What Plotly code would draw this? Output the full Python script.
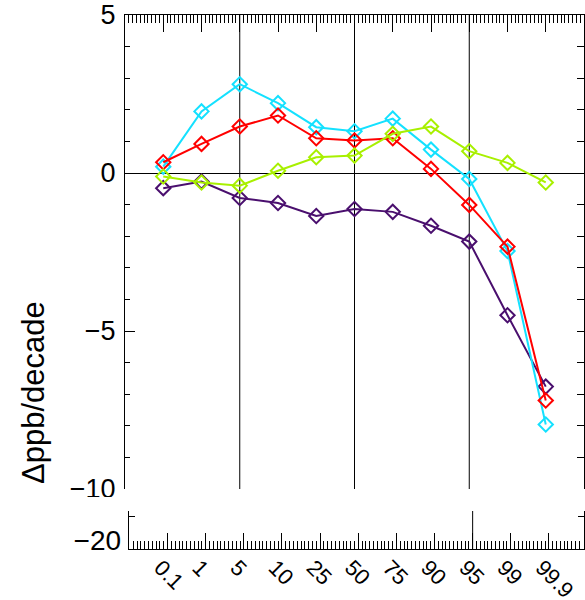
import plotly.graph_objects as go

categories = ["0.1", "1", "5", "10", "25", "50", "75", "90", "95", "99", "99.9"]
purple_vals = [-0.48, -0.27, -0.79, -0.95, -1.36, -1.14, -1.23, -1.67, -2.17, -4.50, -6.76]
cyan_vals = [0.20, 1.95, 2.81, 2.21, 1.45, 1.32, 1.72, 0.74, -0.19, -2.47, -7.96]
red_vals = [0.34, 0.92, 1.47, 1.82, 1.10, 1.03, 1.10, 0.13, -1.01, -2.33, -7.20]
green_vals = [-0.11, -0.30, -0.40, 0.07, 0.50, 0.55, 1.24, 1.47, 0.69, 0.32, -0.30]
vline_categories = ["5", "50", "95"]
lower_vline_categories = ["95"]
y_ticks_main = [-10, -5, 0, 5]
y_ticks_lower = [-20]
y_minor_lower = [-15]
y_title = "Δppb/decade"

W, H = 585, 600
FONT = "Liberation Sans, Arial, Helvetica, sans-serif"
xi = list(range(len(categories)))

series = [
    (purple_vals, "#4A0F6E"),
    (cyan_vals, "#14E1FF"),
    (red_vals, "#FF0000"),
    (green_vals, "#A8F000"),
]

fig = go.Figure()
for vals, col in series:
    fig.add_trace(go.Scatter(
        x=xi, y=vals, mode="lines+markers", xaxis="x", yaxis="y",
        line=dict(color=col, width=2),
        marker=dict(symbol="diamond-open", size=11, color=col, line=dict(width=2, color=col)),
        showlegend=False, hoverinfo="skip"))

# placeholder traces so the mirror axes render
fig.add_trace(go.Scatter(x=[], y=[], xaxis="x", yaxis="y2", showlegend=False))
fig.add_trace(go.Scatter(x=[], y=[], xaxis="x2", yaxis="y3", showlegend=False))
fig.add_trace(go.Scatter(x=[], y=[], xaxis="x2", yaxis="y4", showlegend=False))

lower_range = [-21.96, -13.7]

fig.update_layout(
    width=W, height=H,
    margin=dict(l=0, r=0, t=0, b=0, pad=0, autoexpand=False),
    plot_bgcolor="white", paper_bgcolor="white",
    showlegend=False,
    font=dict(family=FONT, color="black"),
    xaxis=dict(
        domain=[125 / W, 584 / W], range=[-1, 11], anchor="y", side="top",
        automargin=False,
        showline=True, linecolor="black", linewidth=1,
        ticks="inside", ticklen=17, tickcolor="black", tickwidth=1,
        tickmode="array", tickvals=xi, showticklabels=False,
        showgrid=False, zeroline=False,
        minor=dict(ticks="inside", ticklen=8, tickmode="linear", tick0=0, dtick=0.1,
                   tickcolor="black", tickwidth=1, showgrid=False),
    ),
    yaxis=dict(
        domain=[1 - 489 / H, 1 - 15 / H], range=[-10, 5], anchor="x",
        automargin=False, ticklabeloverflow="allow",
        showline=True, linecolor="black", linewidth=1,
        ticks="inside", ticklen=10, tickcolor="black", tickwidth=1,
        tickmode="array", tickvals=y_ticks_main, tickfont=dict(size=27, family=FONT),
        ticklabelstandoff=3,
        showgrid=False, zeroline=True, zerolinecolor="black", zerolinewidth=1,
        minor=dict(ticks="inside", ticklen=5, tickmode="linear", tick0=0, dtick=1,
                   tickcolor="black", tickwidth=1, showgrid=False),
    ),
    yaxis2=dict(
        overlaying="y", side="right", anchor="x", range=[-10, 5],
        automargin=False,
        showline=True, linecolor="black", linewidth=1,
        ticks="inside", ticklen=7, tickcolor="black", tickmode="linear", tick0=0, dtick=1,
        showticklabels=False, showgrid=False, zeroline=False,
    ),
    xaxis2=dict(
        domain=[128.7 / W, 584 / W], range=[-1.02, 10.92], anchor="y3",
        automargin=False, ticklabeloverflow="allow",
        showline=True, linecolor="black", linewidth=1,
        ticks="inside", ticklen=16, tickcolor="black", tickwidth=1,
        tickmode="array", tickvals=xi, ticktext=categories, tickangle=45,
        tickfont=dict(size=22, family=FONT), ticklabelshift=-7, ticklabelstandoff=-4,
        showgrid=False, zeroline=False,
        minor=dict(ticks="inside", ticklen=8, tickmode="linear", tick0=0, dtick=0.1,
                   tickcolor="black", tickwidth=1, showgrid=False),
    ),
    yaxis3=dict(
        domain=[1 - 549 / H, 1 - 511 / H], range=lower_range, anchor="x2",
        automargin=False, ticklabeloverflow="allow",
        showline=True, linecolor="black", linewidth=1,
        ticks="", tickmode="array", tickvals=y_ticks_lower,
        tickfont=dict(size=28, family=FONT), ticklabelstandoff=1,
        showgrid=False, zeroline=False,
        minor=dict(ticks="inside", ticklen=6, tickmode="array", tickvals=y_minor_lower,
                   tickcolor="black", showgrid=False),
    ),
    yaxis4=dict(
        overlaying="y3", side="right", anchor="x2", range=lower_range,
        automargin=False,
        showline=True, linecolor="black", linewidth=1,
        ticks="inside", ticklen=6, tickcolor="black", tickmode="array", tickvals=y_minor_lower,
        showticklabels=False, showgrid=False, zeroline=False,
    ),
)

shapes = []
for cat in vline_categories:
    i = categories.index(cat)
    shapes.append(dict(type="line", xref="x", yref="y", x0=i, x1=i, y0=-10, y1=5,
                       line=dict(color="black", width=1), layer="below"))
for cat in lower_vline_categories:
    i = categories.index(cat)
    shapes.append(dict(type="line", xref="x2", yref="y3 domain", x0=i, x1=i, y0=0, y1=1,
                       line=dict(color="black", width=1), layer="below"))
# white band that clips the lower part of the "-10" label, as in the original
shapes.append(dict(type="rect", xref="paper", yref="paper",
                   x0=40 / W, x1=123.5 / W, y0=1 - 510 / H, y1=1 - 497 / H,
                   fillcolor="white", line=dict(width=0), layer="above"))
fig.update_layout(shapes=shapes)

fig.add_annotation(
    text=y_title, textangle=-90, xref="paper", yref="paper",
    x=33 / W, y=1 - 393 / H, xanchor="center", yanchor="middle",
    showarrow=False, font=dict(size=31, family=FONT, color="black"),
)

fig.write_html(
    "out.html",
    config={"displayModeBar": False},
    post_script="document.body.style.margin='0';document.body.style.overflow='hidden';",
)
